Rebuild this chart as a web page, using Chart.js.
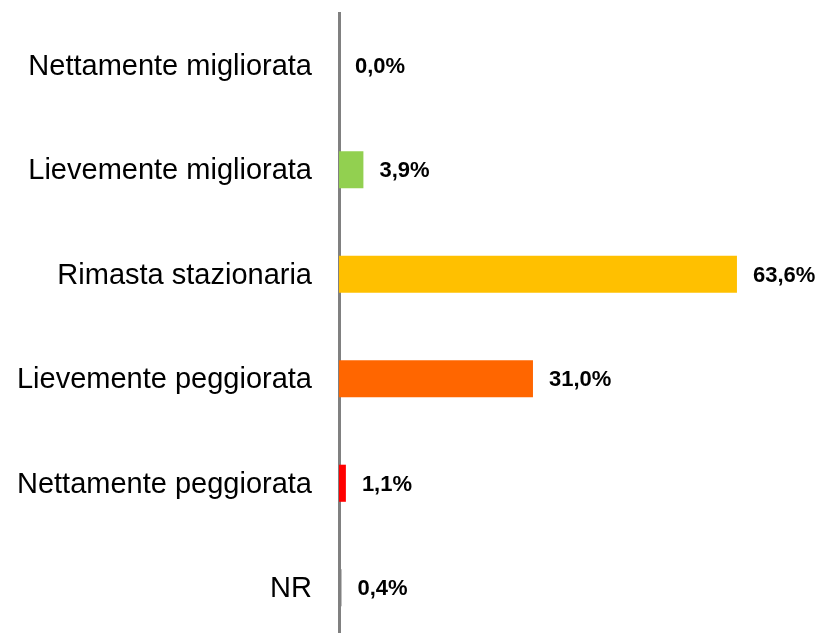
<!DOCTYPE html>
<html>
<head>
<meta charset="utf-8">
<script src="https://cdn.jsdelivr.net/npm/chart.js@4/dist/chart.umd.min.js"></script>
<style>
html,body{margin:0;padding:0;background:#fff;overflow:hidden;}
canvas{display:block;}
</style>
</head>
<body>
<canvas id="c" width="823" height="640"></canvas>
<script>
const categories = ["Nettamente migliorata","Lievemente migliorata","Rimasta stazionaria","Lievemente peggiorata","Nettamente peggiorata","NR"];
const values = [0.0, 3.9, 63.6, 31.0, 1.1, 0.4];
const barColors = ["#92D050","#92D050","#FFC000","#FF6600","#FF0000","#808080"];

const valueLabels = {
  id: 'valueLabels',
  afterDatasetsDraw(chart) {
    const ctx = chart.ctx;
    const meta = chart.getDatasetMeta(0);
    ctx.save();
    ctx.font = 'bold 22px "Liberation Sans", Arial, sans-serif';
    ctx.fillStyle = '#000';
    ctx.textAlign = 'left';
    ctx.textBaseline = 'middle';
    meta.data.forEach((el, i) => {
      const txt = values[i].toFixed(1).replace('.', ',') + '%';
      ctx.fillText(txt, el.x + 16, el.y + 1.5);
    });
    ctx.restore();
  }
};

new Chart(document.getElementById('c'), {
  type: 'bar',
  data: {
    labels: categories,
    datasets: [{
      data: values,
      backgroundColor: barColors,
      borderWidth: 0,
      categoryPercentage: 1,
      barPercentage: 0.355
    }]
  },
  options: {
    indexAxis: 'y',
    responsive: false,
    devicePixelRatio: 1,
    animation: false,
    layout: { padding: { top: 13, right: 46, bottom: 0, left: 0 } },
    plugins: { legend: { display: false }, tooltip: { enabled: false } },
    scales: {
      x: { display: false, min: 0, max: 70 },
      y: {
        offset: true,
        grid: { display: false, drawTicks: false },
        border: { display: true, color: '#808080', width: 3 },
        ticks: {
          color: '#000',
          padding: 27,
          labelOffset: 1.5,
          font: { family: '"Liberation Sans", Arial, sans-serif', size: 29 }
        },
        afterFit(scale) {
          scale.width = 339;
          scale.paddingTop = 0;
          scale.paddingBottom = 0;
        }
      }
    }
  },
  plugins: [valueLabels]
});
</script>
</body>
</html>
